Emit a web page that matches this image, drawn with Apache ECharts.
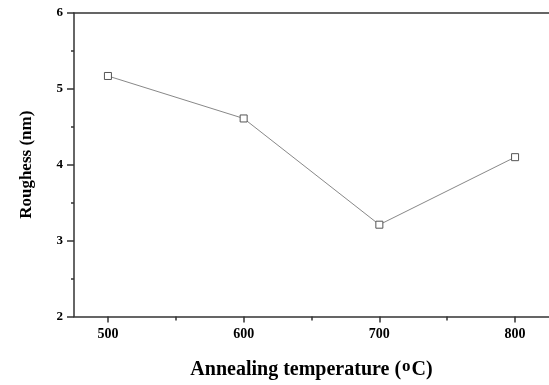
<!DOCTYPE html>
<html>
<head>
<meta charset="utf-8">
<script src="https://cdn.jsdelivr.net/npm/echarts@6/dist/echarts.min.js"></script>
<style>html,body{margin:0;padding:0;background:#fff}#c{width:549px;height:385px}</style>
</head>
<body>
<div id="c"></div>
<script>
var temperatures = [500, 600, 700, 800];
var roughness = [5.17, 4.61, 3.21, 4.10];
var xMajorTicks = [500, 600, 700, 800];
var xMinorTicks = [550, 650, 750];
var yTicks = [2, 3, 4, 5, 6];

var font = '"Liberation Serif", "Times New Roman", serif';
var axisColor = '#333';
var chart = echarts.init(document.getElementById('c'));
var data = temperatures.map(function (t, i) { return [t, roughness[i]]; });

chart.setOption({
  animation: false,
  backgroundColor: '#fff',
  grid: { left: 74, right: -1, top: 13, bottom: 67, containLabel: false },
  xAxis: [
    {
      type: 'value', position: 'bottom', min: 475, max: 825,
      name: '{t|Annealing temperature (}{s|o}{t|C)}',
      nameLocation: 'middle', nameGap: 42,
      nameTextStyle: {
        rich: {
          t: { fontFamily: font, fontWeight: 'bold', fontSize: 20, color: '#000' },
          s: { fontFamily: font, fontWeight: 'bold', fontSize: 17, color: '#000', verticalAlign: 'top', padding: [0, 1, 6, 1] }
        }
      },
      axisLine: { show: true, lineStyle: { color: axisColor, width: 1.5 } },
      axisTick: { show: true, length: 6, inside: false, customValues: xMajorTicks, lineStyle: { color: axisColor, width: 1.5 } },
      axisLabel: { show: true, customValues: xMajorTicks, margin: 11, fontFamily: font, fontWeight: 'bold', fontSize: 14, color: '#000' },
      splitLine: { show: false }
    },
    {
      type: 'value', position: 'bottom', min: 475, max: 825,
      axisLine: { show: false },
      axisTick: { show: true, length: 4, customValues: xMinorTicks, lineStyle: { color: axisColor, width: 1.5 } },
      axisLabel: { show: false },
      splitLine: { show: false }
    },
    {
      type: 'value', position: 'top', min: 475, max: 825,
      axisLine: { show: true, lineStyle: { color: axisColor, width: 1.5 } },
      axisTick: { show: false },
      axisLabel: { show: false },
      splitLine: { show: false }
    }
  ],
  yAxis: {
    type: 'value', min: 2, max: 6, interval: 1,
    name: 'Roughess (nm)', nameLocation: 'middle', nameGap: 39,
    nameTextStyle: { fontFamily: font, fontWeight: 'bold', fontSize: 17, color: '#000' },
    axisLine: { show: true, lineStyle: { color: axisColor, width: 1.5 } },
    axisTick: { show: true, length: 7, lineStyle: { color: axisColor, width: 1.5 } },
    minorTick: { show: true, splitNumber: 2, length: 3, lineStyle: { color: axisColor, width: 1.5 } },
    axisLabel: { margin: 11, fontFamily: font, fontWeight: 'bold', fontSize: 13, color: '#000',
      formatter: function (v) { return yTicks.indexOf(v) >= 0 ? String(v) : ''; } },
    splitLine: { show: false }
  },
  series: [{
    type: 'line', xAxisIndex: 0, yAxisIndex: 0, data: data,
    symbol: 'rect', symbolSize: 7,
    lineStyle: { color: '#888', width: 1 },
    itemStyle: { color: '#fff', borderColor: '#555', borderWidth: 1 }
  }]
});
</script>
</body>
</html>
